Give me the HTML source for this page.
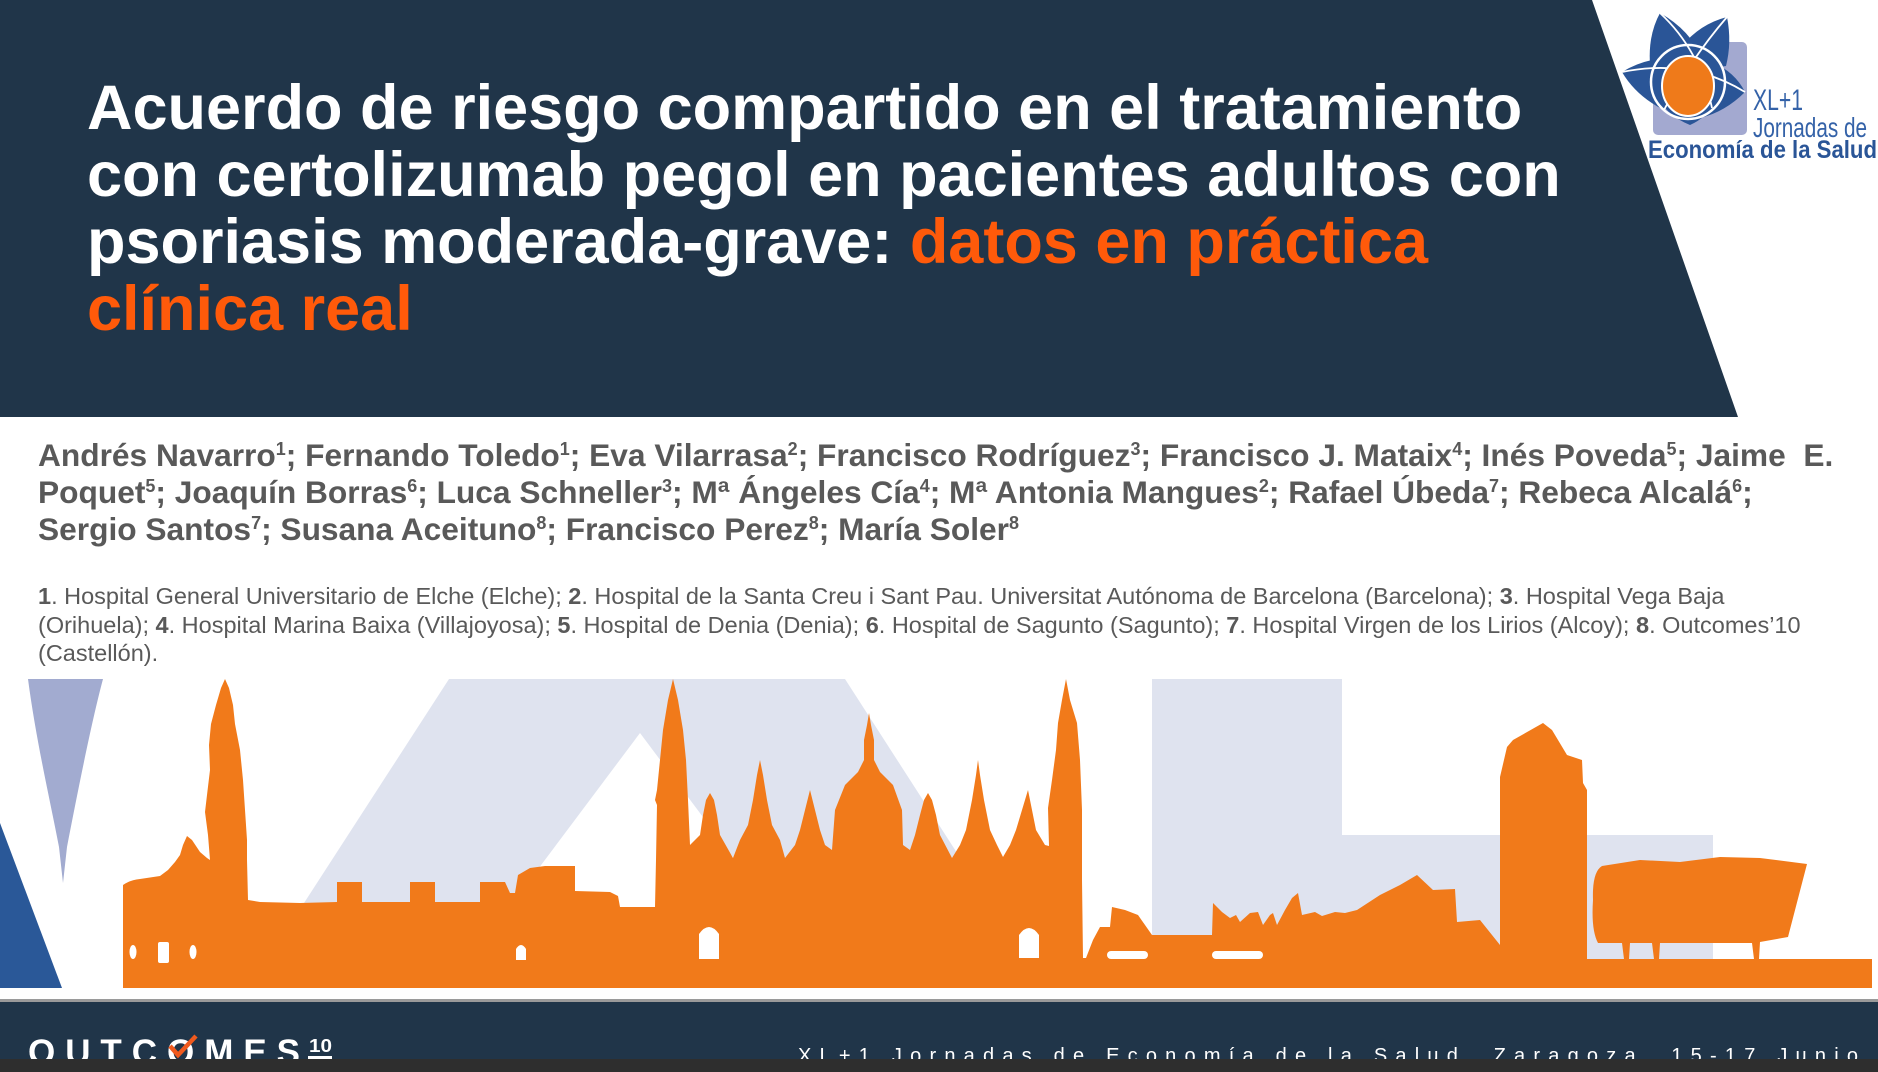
<!DOCTYPE html>
<html lang="es">
<head>
<meta charset="utf-8">
<style>
  html,body{margin:0;padding:0;}
  body{width:1878px;height:1072px;overflow:hidden;position:relative;background:#ffffff;font-family:"Liberation Sans",Arial,sans-serif;}
  .abs{position:absolute;white-space:nowrap;}
  #title{left:87px;top:75px;font-size:63px;line-height:67px;font-weight:bold;color:#ffffff;}
  #title .o{color:#ff5a0a;}
  #authors{left:38px;top:437px;font-size:31.7px;line-height:37px;font-weight:bold;color:#595959;}
  #authors sup{font-size:18px;line-height:0;vertical-align:baseline;position:relative;top:-11px;}
  #aff{left:38px;top:582px;font-size:23.5px;line-height:28.7px;color:#595959;}
  #aff b{color:#595959;}
  svg{position:absolute;left:0;top:0;}
</style>
</head>
<body>
<svg width="1878" height="1072" viewBox="0 0 1878 1072" xmlns="http://www.w3.org/2000/svg">
  <!-- header navy -->
  <polygon points="0,0 1592,0 1738,417 0,417" fill="#203549"/>

  <!-- logo -->
  <rect x="1653" y="42" width="94" height="93" rx="5" fill="#a3a9d0"/>
  <circle cx="1688" cy="82" r="37" fill="#8793c6"/>
  <path d="M1660,13 Q1690,30 1702,58 L1680,74 L1650,64 Q1648,35 1660,13 Z" fill="#2a5597"/>
  <path d="M1727,17 Q1732,42 1726,66 L1700,70 L1682,46 Q1700,24 1727,17 Z" fill="#2a5597"/>
  <path d="M1622,72 Q1645,58 1672,58 L1678,86 L1664,110 Q1636,96 1622,72 Z" fill="#2a5597"/>
  <path d="M1745,92 Q1725,112 1700,118 L1694,88 L1712,62 Q1735,72 1745,92 Z" fill="#2a5597"/>
  <path d="M1690,125 Q1668,116 1660,100 L1688,96 L1716,102 Q1706,118 1690,125 Z" fill="#2a5597"/>
  <circle cx="1688" cy="82" r="37" fill="none" stroke="#ffffff" stroke-width="2.5"/>
  <path d="M1660,13 Q1700,50 1712,108 M1727,17 Q1690,60 1664,110 M1622,72 Q1690,58 1745,92" fill="none" stroke="#ffffff" stroke-width="1.8"/>
  <ellipse cx="1688" cy="86" rx="26" ry="30" fill="#ef7a1a" stroke="#ffffff" stroke-width="2"/>
  <text x="1753" y="110" font-family="Liberation Sans, sans-serif" font-size="30" fill="#3462a8" textLength="50" lengthAdjust="spacingAndGlyphs">XL+1</text>
  <text x="1753" y="137" font-family="Liberation Sans, sans-serif" font-size="28" fill="#3462a8" textLength="114" lengthAdjust="spacingAndGlyphs">Jornadas de</text>
  <text x="1648" y="158" font-family="Liberation Sans, sans-serif" font-size="25" font-weight="bold" fill="#2a5597" textLength="229" lengthAdjust="spacingAndGlyphs">Economía de la Salud</text>

  <!-- skyline backgrounds -->
  <path d="M28,679 L103,679 C92,720 78,790 67,847 L63,883 L59,847 C50,800 36,740 28,679 Z" fill="#a2abd0"/>
  <polygon points="0,823 62,988 0,988" fill="#2a5898"/>
  <polygon points="449,679 845,679 1044,988 249,988" fill="#dfe3ef"/>
  <polygon points="640,733 449,988 831,988" fill="#ffffff"/>
  <rect x="1152" y="679" width="190" height="309" fill="#dfe3ef"/>
  <rect x="1152" y="835" width="561" height="124" fill="#dfe3ef"/>

  <!-- orange skyline -->
  <path fill="#f17a1a" d="M123,988 L123,885 Q130,880 140,879 L160,876 L168,870 L175,862 L180,855 L183,845 L187,836 L192,840 L196,846 L200,852 L207,858 L210,860
  L208,835 L205,812 L207,795 L210,770 L209,745 L211,724 L216,705 L221,688 L225,679 L229,688 L233,705 L235,724 L240,750 L243,780 L245,810 L247,840 L247,860 L248,900
  L260,902 L300,903 L337,902 L337,882 L362,882 L362,902 L410,902 L410,882 L435,882 L435,902 L480,902 L480,882 L505,882 L510,893 L515,893 L518,875 L530,868 L545,866 L575,866 L575,891 L610,892 L618,896 L620,907 L655,907
  L656,860 L657,805 L655,800 L657,790 L660,760 L663,730 L668,700 L673,679 L678,700 L683,730 L686,760 L688,800 L690,845
  L700,835 L703,815 L706,800 L710,793 L714,800 L717,815 L720,835 L733,858
  L740,840 L748,825 L753,800 L757,775 L760,760 L763,775 L767,800 L772,825 L780,840 L785,858
  L795,845 L800,830 L805,810 L810,790 L815,810 L820,830 L825,845 L832,850
  L835,810 L845,785 L858,772 L864,760 L864,740 L867,725 L869,713 L871,725 L874,740 L874,760 L880,772 L893,785 L902,810 L903,845 L910,850
  L915,835 L920,815 L924,800 L928,793 L932,800 L936,815 L940,835 L952,858
  L960,845 L966,830 L972,800 L976,775 L978,760 L980,775 L984,800 L990,830 L997,845 L1003,857
  L1010,845 L1016,830 L1022,810 L1028,790 L1032,810 L1036,830 L1045,845 L1049,846
  L1048,808 L1052,780 L1056,750 L1058,723 L1062,700 L1066,679 L1070,700 L1077,723 L1080,760 L1082,810 L1082,880 L1083,958
  L1086,958 L1093,940 L1100,927 L1110,927 L1112,907 L1125,910 L1138,915 L1145,925 L1152,935 L1212,935 L1213,903 L1222,912 L1230,918 L1236,915 L1240,922 L1250,913 L1258,912 L1263,925 L1270,915 L1273,913 L1277,925 L1285,910 L1292,898 L1298,893 L1302,915 L1315,912 L1322,916 L1335,912 L1345,913 L1357,910 L1380,895 L1400,885 L1417,875 L1433,890 L1455,889 L1457,922 L1480,920 L1492,935 L1500,945
  L1500,777 L1507,747 L1513,740 L1543,723 L1552,730 L1567,755 L1582,760 L1583,783 L1587,790 L1587,959
  L1872,959 L1872,988 Z"/>
  <path fill="#f17a1a" d="M1598,943 Q1591,930 1593,900 Q1592,872 1602,866 L1640,860 L1680,862 L1720,857 L1760,858 L1807,864 L1788,937 L1760,942 L1759,959 L1754,959 L1752,943 L1660,943 L1659,959 L1654,959 L1652,943 L1630,943 L1629,959 L1624,959 L1622,943 Z"/>

  <!-- windows -->
  <ellipse cx="133" cy="952" rx="3.5" ry="7" fill="#ffffff"/>
  <rect x="158" y="942" width="11" height="21" rx="2" fill="#ffffff"/>
  <ellipse cx="193" cy="952" rx="3.5" ry="7" fill="#ffffff"/>
  <path d="M516,960 L516,949 Q521,941 526,949 L526,960 Z" fill="#ffffff"/>
  <path d="M699,959 L699,934 Q709,920 719,934 L719,959 Z" fill="#ffffff"/>
  <path d="M1019,958 L1019,935 Q1029,921 1039,935 L1039,958 Z" fill="#ffffff"/>
  <rect x="1107" y="951" width="41" height="8" rx="4" fill="#ffffff"/>
  <rect x="1212" y="951" width="51" height="8" rx="4" fill="#ffffff"/>

  <!-- footer -->
  <rect x="0" y="999" width="1878" height="4" fill="#9a9a9a"/>
  <rect x="0" y="1002" width="1878" height="57" fill="#203549"/>
  <text x="28" y="1064" font-family="Liberation Sans, sans-serif" font-size="35" font-weight="bold" fill="#ffffff" textLength="272" lengthAdjust="spacing">OUTCOMES</text>
  <path d="M170,1046 L178,1055 L196,1036" fill="none" stroke="#f05a1e" stroke-width="4.5"/>
  <text x="309" y="1052" font-family="Liberation Sans, sans-serif" font-size="18" font-weight="bold" fill="#ffffff" textLength="23" lengthAdjust="spacingAndGlyphs">10</text>
  <rect x="308" y="1056" width="24" height="3" fill="#ffffff"/>
  <text x="798" y="1062" font-family="Liberation Sans, sans-serif" font-size="20" fill="#ffffff" textLength="1060" lengthAdjust="spacing">XL+1 Jornadas de Economía de la Salud. Zaragoza, 15-17 Junio</text>
  <rect x="0" y="1059" width="1878" height="13" fill="#2e2e2e"/>
</svg>

<div id="title" class="abs">Acuerdo de riesgo compartido en el tratamiento<br>con certolizumab pegol en pacientes adultos con<br>psoriasis moderada-grave: <span class="o">datos en práctica</span><br><span class="o">clínica real</span></div>

<div id="authors" class="abs">Andrés Navarro<sup>1</sup>; Fernando Toledo<sup>1</sup>; Eva Vilarrasa<sup>2</sup>; Francisco Rodríguez<sup>3</sup>; Francisco J. Mataix<sup>4</sup>; Inés Poveda<sup>5</sup>; Jaime&nbsp; E.<br>Poquet<sup>5</sup>; Joaquín Borras<sup>6</sup>; Luca Schneller<sup>3</sup>; Mª Ángeles Cía<sup>4</sup>; Mª Antonia Mangues<sup>2</sup>; Rafael Úbeda<sup>7</sup>; Rebeca Alcalá<sup>6</sup>;<br>Sergio Santos<sup>7</sup>; Susana Aceituno<sup>8</sup>; Francisco Perez<sup>8</sup>; María Soler<sup>8</sup></div>

<div id="aff" class="abs"><b>1</b>. Hospital General Universitario de Elche (Elche); <b>2</b>. Hospital de la Santa Creu i Sant Pau. Universitat Autónoma de Barcelona (Barcelona); <b>3</b>. Hospital Vega Baja<br>(Orihuela); <b>4</b>. Hospital Marina Baixa (Villajoyosa); <b>5</b>. Hospital de Denia (Denia); <b>6</b>. Hospital de Sagunto (Sagunto); <b>7</b>. Hospital Virgen de los Lirios (Alcoy); <b>8</b>. Outcomes’10<br>(Castellón).</div>
</body>
</html>
